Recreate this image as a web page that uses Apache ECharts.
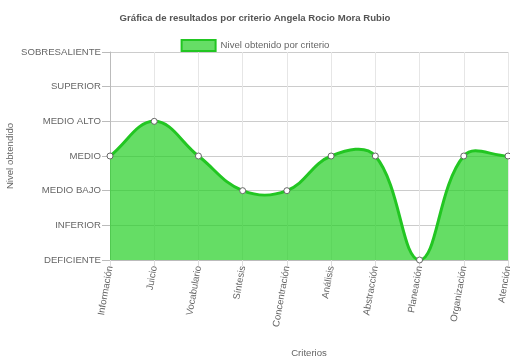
<!DOCTYPE html>
<html><head><meta charset="utf-8">
<script src="https://cdn.jsdelivr.net/npm/echarts@6/dist/echarts.min.js"></script>
<style>html,body{margin:0;padding:0;background:#fff}#c{width:510px;height:361px}</style>
</head><body><div id="c"></div>
<script>
const titleText = "Gráfica de resultados por criterio Angela Rocio Mora Rubio";
const seriesName = "Nivel obtenido por criterio";
const yAxisName = "Nivel obtendido";
const xAxisName = "Criterios";
const categories = ["Información","Juicio","Vocabulario","Síntesis","Concentración","Análisis","Abstracción","Planeación","Organización","Atención"];
const levels = ["DEFICIENTE","INFERIOR","MEDIO BAJO","MEDIO","MEDIO ALTO","SUPERIOR","SOBRESALIENTE"];
const values = [3,4,3,2,2,3,3,0,3,3];

const chart = echarts.init(document.getElementById('c'));
const font = 'Liberation Sans, Arial, sans-serif';
const fs = 9.6;
const lineColor = '#22c622';
const fillColor = 'rgba(36,206,36,0.7)';
const tension = 0.4;

function splinePath(params, api) {
  const pts = values.map((v, i) => api.coord([i, v]));
  const cs = params.coordSys;
  const n = pts.length;
  const clampY = y => Math.max(cs.y, Math.min(cs.y + cs.height, y));
  const clampX = x => Math.max(cs.x, Math.min(cs.x + cs.width, x));
  const cps = pts.map((p, i) => {
    const prev = i > 0 ? pts[i - 1] : p;
    const next = i < n - 1 ? pts[i + 1] : p;
    const d01 = Math.hypot(p[0] - prev[0], p[1] - prev[1]);
    const d12 = Math.hypot(next[0] - p[0], next[1] - p[1]);
    let s01 = d01 / (d01 + d12), s12 = d12 / (d01 + d12);
    if (isNaN(s01)) s01 = 0; if (isNaN(s12)) s12 = 0;
    const fa = tension * s01, fb = tension * s12;
    return {
      prev: [clampX(p[0] - fa * (next[0] - prev[0])), clampY(p[1] - fa * (next[1] - prev[1]))],
      next: [clampX(p[0] + fb * (next[0] - prev[0])), clampY(p[1] + fb * (next[1] - prev[1]))]
    };
  });
  let d = 'M' + pts[0][0] + ' ' + pts[0][1];
  for (let i = 1; i < n; i++) {
    const a = cps[i - 1].next, b = cps[i].prev, p = pts[i];
    d += ' C' + a[0] + ' ' + a[1] + ' ' + b[0] + ' ' + b[1] + ' ' + p[0] + ' ' + p[1];
  }
  const base = api.coord([0, 0])[1];
  const area = d + ' L' + pts[n - 1][0] + ' ' + base + ' L' + pts[0][0] + ' ' + base + ' Z';
  return {line: d, area: area};
}

chart.setOption({
  animation:false,
  title:{text:titleText,left:'center',top:8,textStyle:{fontSize:fs,fontWeight:'bold',color:'#555',fontFamily:font}},
  legend:{top:34,left:'center',itemWidth:34,itemHeight:11,itemGap:5,
    textStyle:{fontSize:fs,color:'#666',fontFamily:font},
    data:[{name:seriesName,icon:'rect',itemStyle:{color:'#66dd66',borderColor:lineColor,borderWidth:2}}]},
  graphic:[{type:'text',x:10,y:156,rotation:Math.PI/2,
    style:{text:yAxisName,fill:'#666',font:fs+'px '+font,align:'center',verticalAlign:'middle'}}],
  grid:{left:110,right:2,top:52,bottom:101,outerBoundsMode:'none',containLabel:false},
  xAxis:{type:'category',data:categories,boundaryGap:false,
    name:xAxisName,nameLocation:'middle',nameGap:88,nameTextStyle:{fontSize:fs,color:'#666',fontFamily:font},
    axisLine:{lineStyle:{color:'#bbb'}},
    axisTick:{show:true,length:6,lineStyle:{color:'#ddd'}},
    splitLine:{show:true,lineStyle:{color:'#e6e6e6'}},
    axisLabel:{rotate:80,fontSize:fs,color:'#666',fontFamily:font,margin:6}},
  yAxis:{type:'value',min:0,max:6,interval:1,
    axisLine:{show:true,lineStyle:{color:'#bbb'}},
    axisTick:{show:true,length:8,lineStyle:{color:'#bbb'}},
    splitLine:{show:true,lineStyle:{color:'#ccc'}},
    axisLabel:{fontSize:fs,color:'#666',fontFamily:font,margin:9,formatter:v=>levels[v]}},
  series:[
    {name:seriesName,type:'custom',coordinateSystem:'cartesian2d',data:[[0,values[0]]],clip:false,z:2,
     renderItem:function(params, api){
       const p = splinePath(params, api);
       return {type:'group',children:[
         {type:'path',shape:{pathData:p.area},style:{fill:fillColor,stroke:null}},
         {type:'path',shape:{pathData:p.line},style:{fill:null,stroke:lineColor,lineWidth:3}}
       ]};
     }},
    {name:seriesName,type:'line',data:values,z:3,
     lineStyle:{width:0,opacity:0},
     itemStyle:{color:'#ffffff',borderColor:'#666',borderWidth:1},
     symbol:'circle',symbolSize:6,showSymbol:true}
  ]
});
</script></body></html>
